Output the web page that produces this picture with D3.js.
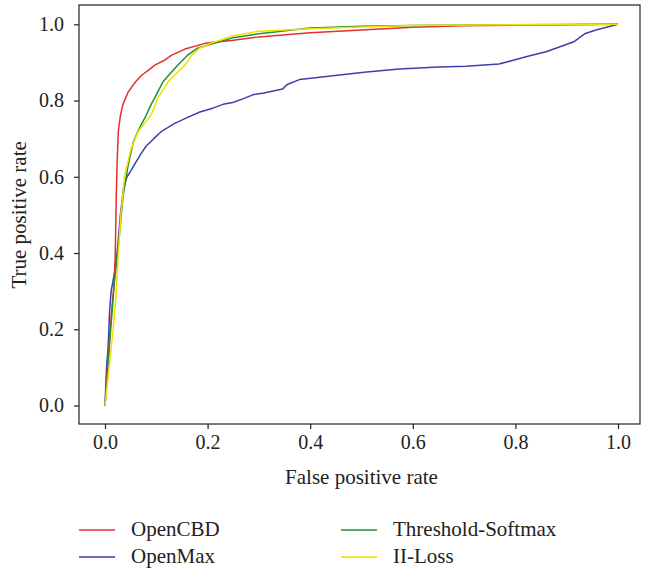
<!DOCTYPE html>
<html>
<head>
<meta charset="utf-8">
<script src="https://cdn.jsdelivr.net/npm/d3@7"></script>
<style>
  body { margin: 0; background: #fff; }
  text { font-family: "Liberation Serif", "DejaVu Serif", serif; fill: #222; }
</style>
</head>
<body>
<div id="chart"></div>
<script>
const width = 648,
      height = 568,
      tick_font_size = '20px',
      label_font_size = '21px'

// ROC curves, [fpr, tpr]
const opencbd = [[0,0],[0.005,0.1],[0.01,0.2],[0.015,0.28],[0.018,0.32],[0.02,0.4],[0.022,0.55],[0.024,0.65],
  [0.026,0.72],[0.03,0.76],[0.035,0.79],[0.045,0.822],[0.06,0.85],[0.072,0.867],[0.085,0.88],[0.097,0.893],
  [0.115,0.905],[0.13,0.919],[0.156,0.935],[0.195,0.95],[0.25,0.958],[0.3,0.967],[0.4,0.978],[0.5,0.985],
  [0.6,0.992],[0.7,0.996],[0.8,0.998],[0.9,0.999],[1,1]]

const openmax = [[0,0],[0.003,0.1],[0.006,0.15],[0.009,0.25],[0.012,0.3],[0.02,0.36],[0.025,0.42],[0.03,0.5],
  [0.036,0.57],[0.043,0.6],[0.05,0.615],[0.06,0.638],[0.07,0.66],[0.08,0.68],[0.095,0.7],[0.111,0.72],
  [0.136,0.74],[0.16,0.755],[0.185,0.77],[0.21,0.78],[0.23,0.79],[0.249,0.795],[0.27,0.805],[0.288,0.815],
  [0.31,0.82],[0.346,0.83],[0.355,0.842],[0.379,0.855],[0.41,0.86],[0.444,0.865],[0.51,0.875],[0.574,0.883],
  [0.65,0.888],[0.704,0.89],[0.768,0.896],[0.794,0.905],[0.83,0.918],[0.86,0.928],[0.895,0.945],
  [0.915,0.955],[0.925,0.965],[0.935,0.975],[0.957,0.985],[1,1]]

const threshold_softmax = [[0,0],[0.004,0.06],[0.008,0.146],[0.013,0.232],[0.018,0.32],[0.023,0.38],
  [0.029,0.46],[0.035,0.547],[0.045,0.63],[0.055,0.69],[0.066,0.725],[0.078,0.755],[0.09,0.79],
  [0.1,0.815],[0.113,0.849],[0.128,0.872],[0.142,0.893],[0.161,0.919],[0.181,0.938],[0.22,0.953],
  [0.25,0.965],[0.3,0.975],[0.4,0.99],[0.5,0.995],[0.6,0.997],[0.8,0.999],[1,1]]

const ii_loss = [[0,0],[0.008,0.1],[0.016,0.2],[0.022,0.3],[0.026,0.4],[0.031,0.5],[0.038,0.6],[0.05,0.67],
  [0.065,0.72],[0.08,0.745],[0.091,0.765],[0.103,0.807],[0.123,0.849],[0.142,0.875],[0.156,0.893],
  [0.169,0.919],[0.185,0.938],[0.208,0.951],[0.25,0.97],[0.3,0.982],[0.35,0.985],[0.4,0.988],[0.5,0.993],
  [0.6,0.997],[0.8,0.999],[1,1]]

const series = [
  {name: 'OpenCBD', values: opencbd, color: '#e4312b'},
  {name: 'OpenMax', values: openmax, color: '#3d40a8'},
  {name: 'Threshold-Softmax', values: threshold_softmax, color: '#1f8f3a'},
  {name: 'II-Loss', values: ii_loss, color: '#f2df00'}
]
const draw_order = ['OpenMax', 'OpenCBD', 'Threshold-Softmax', 'II-Loss']
const tick_values = [0, 0.2, 0.4, 0.6, 0.8, 1.0]

const box = {left: 79, right: 640, top: 5, bottom: 424}

const svg = d3.select('#chart').append('svg')
  .attr('width', width)
  .attr('height', height)

const x = d3.scaleLinear().domain([0, 1]).range([105, 618])
const y = d3.scaleLinear().domain([0, 1]).range([405.5, 24.3])

// curves
const line = d3.line().x(d => x(d[0])).y(d => y(d[1]))
const curves = svg.append('g')
for (const name of draw_order) {
  const s = series.find(s => s.name == name)
  curves.append('path')
    .datum(s.values)
    .attr('d', line)
    .style('fill', 'none')
    .style('stroke', s.color)
    .style('stroke-width', 1.5)
    .style('stroke-linejoin', 'round')
}

// frame
svg.append('rect')
  .attr('x', box.left)
  .attr('y', box.top)
  .attr('width', box.right - box.left)
  .attr('height', box.bottom - box.top)
  .style('fill', 'none')
  .style('stroke', '#222')
  .style('stroke-width', 1.2)

const x_axis = svg.append('g')
  .attr('transform', `translate(0,${box.bottom})`)
  .call(d3.axisBottom(x).tickValues(tick_values).tickFormat(d3.format('.1f')).tickSize(5).tickPadding(6))
const y_axis = svg.append('g')
  .attr('transform', `translate(${box.left},0)`)
  .call(d3.axisLeft(y).tickValues(tick_values).tickFormat(d3.format('.1f')).tickSize(5).tickPadding(10))

for (const ax of [x_axis, y_axis]) {
  ax.select('.domain').remove()
  ax.selectAll('line').style('stroke', '#222').style('stroke-width', 1.2)
  ax.selectAll('text').style('font-size', tick_font_size).style('font-family', '"Liberation Serif", serif').style('fill', '#222')
}

svg.append('text')
  .attr('x', x(0.5))
  .attr('y', 484)
  .attr('text-anchor', 'middle')
  .style('font-size', label_font_size)
  .text('False positive rate')

svg.append('text')
  .attr('transform', `translate(26,${y(0.5)}) rotate(-90)`)
  .attr('text-anchor', 'middle')
  .style('font-size', label_font_size)
  .text('True positive rate')

// legend, two columns
const legend = svg.append('g')
series.forEach((s, i) => {
  const col = Math.floor(i / 2), row = i % 2
  const g = legend.append('g')
    .attr('transform', `translate(${79 + col * 262},${530 + row * 27})`)
  g.append('line')
    .attr('x1', 0).attr('x2', 36)
    .style('stroke', s.color)
    .style('stroke-width', 1.5)
  g.append('text')
    .attr('x', 52)
    .attr('y', 6)
    .style('font-size', label_font_size)
    .text(s.name)
})
</script>
</body>
</html>
